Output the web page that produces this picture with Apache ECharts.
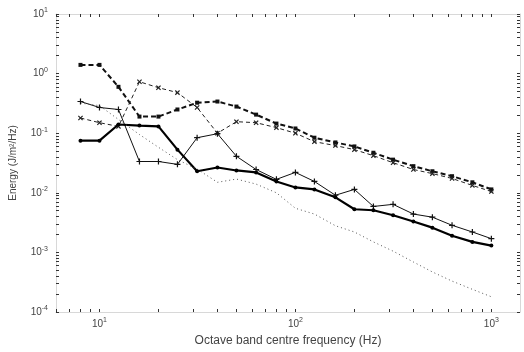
<!DOCTYPE html>
<html style="height: 100%">
<head>
<meta charset="utf-8">
<script src="https://cdn.jsdelivr.net/npm/echarts@6/dist/echarts.min.js"></script>
</head>
<body style="height: 100%; margin: 0; background: #fff">
<div id="container" style="width: 524px; height: 352px"></div>
<script type="text/javascript">
// third-octave band centres (Hz)
var freqs = [8, 10, 12.5, 16, 20, 25, 31.5, 40, 50, 63, 80, 100, 125, 160, 200, 250, 315, 400, 500, 630, 800, 1000];

// heavy dashed, square markers
var seriesA = [1.40, 1.40, 0.60, 0.19, 0.19, 0.25, 0.325, 0.34, 0.28, 0.205, 0.145, 0.12, 0.084, 0.070, 0.060, 0.047, 0.036, 0.028, 0.023, 0.019, 0.015, 0.0114];
// thin dashed, x markers
var seriesB = [0.18, 0.15, 0.13, 0.73, 0.58, 0.48, 0.27, 0.10, 0.156, 0.15, 0.124, 0.10, 0.072, 0.062, 0.053, 0.042, 0.032, 0.0246, 0.021, 0.0174, 0.0133, 0.0105];
// thin solid, + markers
var seriesC = [0.34, 0.27, 0.25, 0.0335, 0.0335, 0.030, 0.084, 0.098, 0.041, 0.0246, 0.0168, 0.022, 0.0155, 0.0091, 0.0114, 0.0059, 0.0064, 0.0044, 0.0039, 0.00285, 0.0022, 0.0017];
// heavy solid, dot markers
var seriesD = [0.075, 0.075, 0.14, 0.134, 0.13, 0.053, 0.023, 0.0266, 0.0237, 0.022, 0.0155, 0.0123, 0.0114, 0.0084, 0.0053, 0.0051, 0.0042, 0.0033, 0.0026, 0.0019, 0.0015, 0.0013];
// dotted, no markers
var seriesE = [0.32, 0.29, 0.17, 0.095, 0.058, 0.036, 0.025, 0.015, 0.017, 0.014, 0.010, 0.0055, 0.0044, 0.0028, 0.0022, 0.0015, 0.00105, 0.00069, 0.00047, 0.00033, 0.00024, 0.00018];

var xTickLabels = [10, 100, 1000];
var yTickLabels = [0.0001, 0.001, 0.01, 0.1, 1, 10];

// log minor tick positions
function logTicks(lo, hi) {
    var out = [];
    for (var d = Math.pow(10, Math.floor(Math.log10(lo))); d <= hi; d *= 10) {
        for (var k = 1; k <= 9; k++) {
            var v = +(k * d).toPrecision(3);
            if (v >= lo - 1e-12 && v <= hi + 1e-12) out.push(v);
        }
    }
    return out;
}
var xTicks = logTicks(6, 1400);
var yTicks = logTicks(0.0001, 10);

function pow10Label(v) {
    var e = Math.round(Math.log10(v));
    return '{b|10}{s|' + e + '}';
}
var labelRich = {
    b: { fontSize: 10, color: '#444', fontFamily: 'Liberation Sans' },
    s: { fontSize: 7, color: '#444', fontFamily: 'Liberation Sans', padding: [0, 0, 7, 0] }
};

function toPairs(vals) {
    return freqs.map(function (f, i) { return [f, vals[i]]; });
}

var plusPath = 'path://M4,0H6V4H10V6H6V10H4V6H0V4H4Z';

var frameLine = { show: true, lineStyle: { color: '#d8d8d8', width: 1 } };
var innerTick = { show: true, inside: true, length: 3, lineStyle: { color: '#333', width: 1 } };

var dom = document.getElementById('container');
var myChart = echarts.init(dom, null, { renderer: 'canvas' });
var option = {
    animation: false,
    backgroundColor: '#fff',
    grid: { left: 53, right: 4, top: 14, bottom: 39 },
    xAxis: [{
        type: 'log',
        min: 6,
        max: 1400,
        position: 'bottom',
        axisLine: frameLine,
        axisTick: Object.assign({ customValues: xTicks }, innerTick),
        axisLabel: {
            customValues: xTickLabels,
            formatter: pow10Label,
            rich: labelRich,
            margin: 5
        },
        splitLine: { show: false },
        name: 'Octave band centre frequency (Hz)',
        nameLocation: 'middle',
        nameGap: 23,
        nameTextStyle: { fontSize: 12, color: '#444', fontFamily: 'Liberation Sans' }
    }, {
        type: 'log',
        min: 6,
        max: 1400,
        position: 'top',
        axisLine: frameLine,
        axisTick: Object.assign({ customValues: xTicks }, innerTick),
        axisLabel: { show: false },
        splitLine: { show: false }
    }],
    yAxis: [{
        type: 'log',
        min: 0.0001,
        max: 10,
        position: 'left',
        axisLine: frameLine,
        axisTick: Object.assign({ customValues: yTicks }, innerTick),
        axisLabel: {
            customValues: yTickLabels,
            formatter: pow10Label,
            rich: labelRich,
            margin: 8
        },
        splitLine: { show: false },
        name: 'Energy (J/m\u00b2/Hz)',
        nameLocation: 'middle',
        nameGap: 38,
        nameTextStyle: { fontSize: 10, color: '#444', fontFamily: 'Liberation Sans' }
    }, {
        type: 'log',
        min: 0.0001,
        max: 10,
        position: 'right',
        axisLine: frameLine,
        axisTick: Object.assign({ customValues: yTicks }, innerTick),
        axisLabel: { show: false },
        splitLine: { show: false }
    }],
    series: [{
        name: 'A',
        type: 'line',
        data: toPairs(seriesA),
        symbol: 'rect',
        symbolSize: 4,
        itemStyle: { color: '#111' },
        lineStyle: { color: '#111', width: 2, type: [5, 3] }
    }, {
        name: 'B',
        type: 'line',
        data: toPairs(seriesB),
        symbol: plusPath,
        symbolSize: 6,
        symbolRotate: 45,
        itemStyle: { color: '#222' },
        lineStyle: { color: '#222', width: 1, type: [4, 3] }
    }, {
        name: 'C',
        type: 'line',
        data: toPairs(seriesC),
        symbol: plusPath,
        symbolSize: 6,
        itemStyle: { color: '#111' },
        lineStyle: { color: '#111', width: 1 }
    }, {
        name: 'D',
        type: 'line',
        data: toPairs(seriesD),
        symbol: 'circle',
        symbolSize: 4,
        itemStyle: { color: '#000' },
        lineStyle: { color: '#000', width: 2.2 }
    }, {
        name: 'E',
        type: 'line',
        data: toPairs(seriesE),
        symbol: 'none',
        lineStyle: { color: '#555', width: 1, type: [1, 3] }
    }]
};
if (option && typeof option === 'object') {
    myChart.setOption(option, true);
}
</script>
</body>
</html>
